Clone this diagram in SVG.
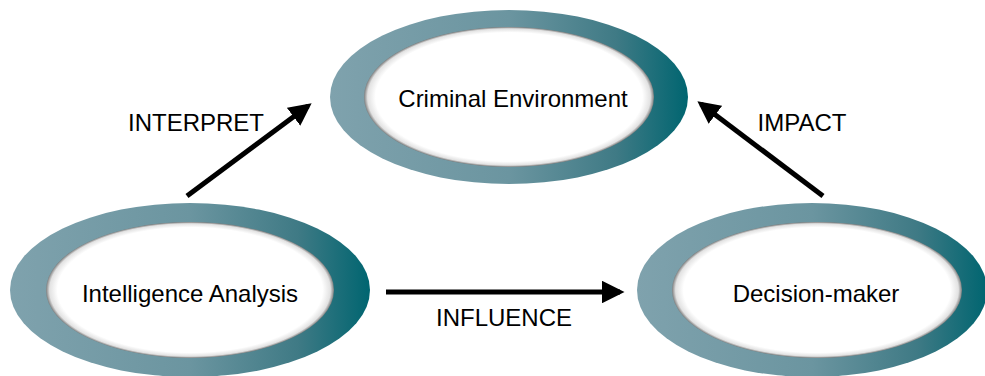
<svg xmlns="http://www.w3.org/2000/svg" width="985" height="376" viewBox="0 0 985 376">
<defs>
<linearGradient id="ring" x1="0" y1="0" x2="1" y2="0">
<stop offset="0" stop-color="#7fa2ad"/>
<stop offset="0.5" stop-color="#6b95a0"/>
<stop offset="0.8" stop-color="#3f7a85"/>
<stop offset="1" stop-color="#006570"/>
</linearGradient>
<radialGradient id="inner" cx="0.5" cy="0.5" r="0.5">
<stop offset="0.92" stop-color="#ffffff"/>
<stop offset="0.975" stop-color="#e2e2e2"/>
<stop offset="1" stop-color="#7e7e7e"/>
</radialGradient>
<marker id="ah" viewBox="0 0 10 10" refX="8" refY="5" markerWidth="4.5" markerHeight="4.5" orient="auto" markerUnits="strokeWidth">
<path d="M0,0 L10,5 L0,10 Z" fill="#000"/>
</marker>
<style>
.ring{fill:url(#ring)}
.in{fill:url(#inner)}
.t{font-family:"Liberation Sans",Arial,sans-serif;font-size:24px;fill:#000;text-anchor:middle}
.c{stroke:#000;stroke-width:5;fill:none;marker-end:url(#ah)}
</style>
</defs>
<g id="criminal-environment">
<ellipse class="ring" cx="509" cy="97" rx="179" ry="87"/>
<ellipse class="in" cx="509" cy="97" rx="145" ry="70"/>
<text class="t" x="513" y="107">Criminal Environment</text>
</g>
<g id="intelligence-analysis">
<ellipse class="ring" cx="190" cy="290" rx="180" ry="87"/>
<ellipse class="in" cx="190" cy="290" rx="144" ry="68"/>
<text class="t" x="190" y="302">Intelligence Analysis</text>
</g>
<g id="decision-maker">
<ellipse class="ring" cx="812" cy="290" rx="175" ry="87"/>
<ellipse class="in" cx="817" cy="290" rx="145" ry="68"/>
<text class="t" x="816" y="302">Decision-maker</text>
</g>
<g id="connectors">
<line class="c" x1="187" y1="196" x2="308" y2="106"/>
<line class="c" x1="823" y1="196" x2="701" y2="104"/>
<line class="c" x1="386" y1="292" x2="620" y2="292"/>
<text class="t" x="196" y="131">INTERPRET</text>
<text class="t" x="802" y="131">IMPACT</text>
<text class="t" x="504" y="326">INFLUENCE</text>
</g>
</svg>
